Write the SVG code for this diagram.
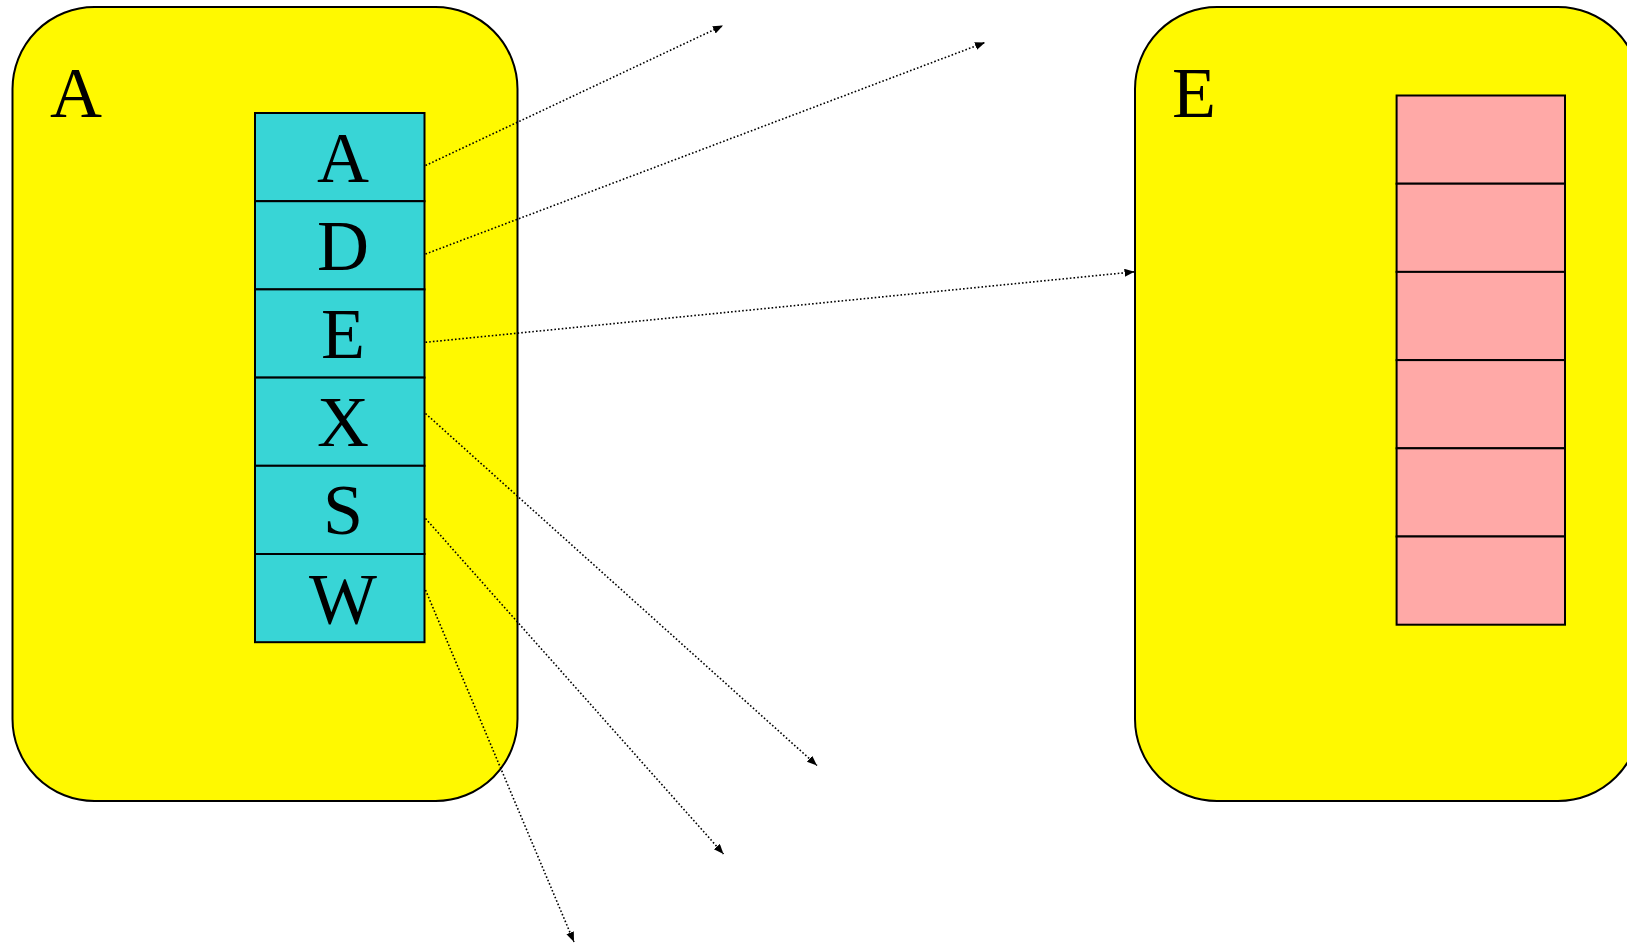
<svg xmlns="http://www.w3.org/2000/svg" width="1627" height="945" viewBox="0 0 1627 945">
  <style>
    .frame { fill: #fff900; stroke: #000; stroke-width: 2; }
    .cell-a { fill: #38d5d6; stroke: #000; stroke-width: 2; }
    .cell-e { fill: #ffa9a7; stroke: #000; stroke-width: 2; }
    .big { font-family: "Liberation Serif", "Times New Roman", serif; font-size: 72px; fill: #000; }
    .mid { text-anchor: middle; }
    .link { fill: none; stroke: #000; stroke-width: 1.6; stroke-dasharray: 1.6 2.1; marker-end: url(#tip); }
  </style>
  <defs>
    <marker id="tip" markerUnits="userSpaceOnUse" markerWidth="12" markerHeight="10" refX="10" refY="4" orient="auto">
      <path d="M0,0 L10,4 L0,8 Z" fill="#000"/>
    </marker>
  </defs>
  <rect width="1627" height="945" fill="#fff"/>

  <!-- container A with its cell stack -->
  <g id="node-A">
    <rect class="frame" x="12.5" y="7" width="505" height="794" rx="82" ry="82"/>
    <text class="big" x="50" y="117.3">A</text>
  </g>
  <g id="stack-A">
    <g id="cell-A"><rect class="cell-a" x="255" y="113" width="169.5" height="88.2"/><text class="big mid" x="343" y="181.5">A</text></g>
    <g id="cell-D"><rect class="cell-a" x="255" y="201.2" width="169.5" height="88.2"/><text class="big mid" x="343" y="269.7">D</text></g>
    <g id="cell-E"><rect class="cell-a" x="255" y="289.4" width="169.5" height="88.2"/><text class="big mid" x="343" y="357.9">E</text></g>
    <g id="cell-X"><rect class="cell-a" x="255" y="377.6" width="169.5" height="88.2"/><text class="big mid" x="343" y="446.1">X</text></g>
    <g id="cell-S"><rect class="cell-a" x="255" y="465.8" width="169.5" height="88.2"/><text class="big mid" x="343" y="534.3">S</text></g>
    <g id="cell-W"><rect class="cell-a" x="255" y="554" width="169.5" height="88.2"/><text class="big mid" x="343" y="622.5">W</text></g>
  </g>

  <!-- container E with empty cell stack -->
  <g id="node-E">
    <rect class="frame" x="1135" y="7" width="505" height="794" rx="82" ry="82"/>
    <text class="big" x="1172" y="117.3">E</text>
  </g>
  <g id="stack-E">
    <rect class="cell-e" x="1396.6" y="95.5" width="168.4" height="88.2"/>
    <rect class="cell-e" x="1396.6" y="183.7" width="168.4" height="88.2"/>
    <rect class="cell-e" x="1396.6" y="271.9" width="168.4" height="88.2"/>
    <rect class="cell-e" x="1396.6" y="360.1" width="168.4" height="88.2"/>
    <rect class="cell-e" x="1396.6" y="448.3" width="168.4" height="88.2"/>
    <rect class="cell-e" x="1396.6" y="536.5" width="168.4" height="88.2"/>
  </g>

  <!-- dotted references leaving the cells -->
  <g id="connectors">
    <line class="link" x1="425.5" y1="165.5" x2="723" y2="25.5"/>
    <line class="link" x1="425.5" y1="254" x2="985" y2="42.5"/>
    <line class="link" x1="425.5" y1="342.3" x2="1134.5" y2="271.8"/>
    <line class="link" x1="425.5" y1="413.5" x2="817" y2="765.5"/>
    <line class="link" x1="425.5" y1="518.5" x2="723.5" y2="854"/>
    <line class="link" x1="425.5" y1="590" x2="574" y2="942"/>
  </g>
</svg>
